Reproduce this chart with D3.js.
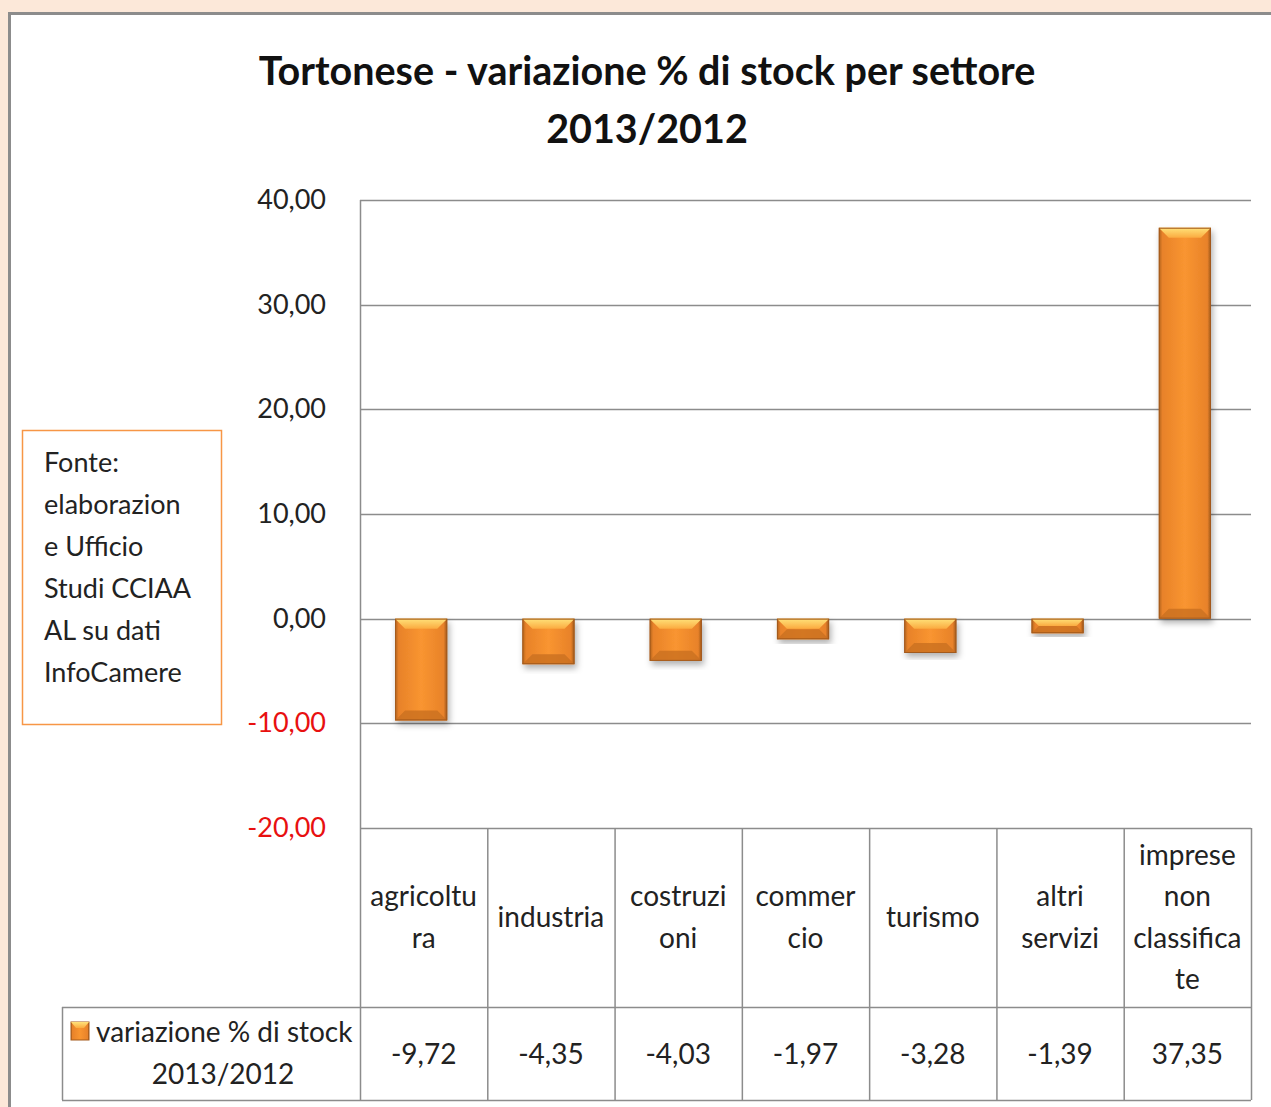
<!DOCTYPE html>
<html>
<head>
<meta charset="utf-8">
<script src="https://cdn.jsdelivr.net/npm/d3@7"></script>
<style>
    body { margin: 0; background: #fce8d9; }
    svg { display: block; }
    text { font-family: Lato, "Open Sans", sans-serif; fill: #222; }
</style>
</head>
<body>
<div id="chart"></div>
<script>
const categories = ["agricoltura", "industria", "costruzioni", "commercio", "turismo", "altri servizi", "imprese non classificate"];
const categoryLines = [["agricoltu", "ra"], ["industria"], ["costruzi", "oni"], ["commer", "cio"], ["turismo"], ["altri", "servizi"], ["imprese", "non", "classifica", "te"]];
const values = [-9.72, -4.35, -4.03, -1.97, -3.28, -1.39, 37.35];
const yTicks = [40, 30, 20, 10, 0, -10, -20];
const seriesName = ["variazione % di stock", "2013/2012"];
const sourceLines = ["Fonte:", "elaborazion", "e Ufficio", "Studi CCIAA", "AL su dati", "InfoCamere"];

const W = 1271, H = 1107;
// comma decimal, plain hyphen for negatives
const fmt = v => d3.format(".2f")(v).replace(".", ",").replace("\u2212", "-");

const svg = d3.select("#chart").append("svg")
    .attr("width", W)
    .attr("height", H);

const defs = svg.append("defs");

// horizontal shading of bar body
const gBody = defs.append("linearGradient").attr("id", "barBody");
gBody.append("stop").attr("offset", "0%").attr("stop-color", "#b0621c");
gBody.append("stop").attr("offset", "7%").attr("stop-color", "#e8822a");
gBody.append("stop").attr("offset", "50%").attr("stop-color", "#f99530");
gBody.append("stop").attr("offset", "93%").attr("stop-color", "#e8822a");
gBody.append("stop").attr("offset", "100%").attr("stop-color", "#9c561a");

const gTop = defs.append("linearGradient").attr("id", "barTop")
    .attr("x1", 0).attr("y1", 0).attr("x2", 0).attr("y2", 1);
gTop.append("stop").attr("offset", "0%").attr("stop-color", "#ffe27a");
gTop.append("stop").attr("offset", "100%").attr("stop-color", "#fbab40");

const shadow = defs.append("filter").attr("id", "shadow")
    .attr("x", "-20%").attr("y", "-10%").attr("width", "140%").attr("height", "130%");
shadow.append("feDropShadow").attr("dx", 2).attr("dy", 4).attr("stdDeviation", 3)
    .attr("flood-color", "#000").attr("flood-opacity", 0.3);

// chart area (white panel)
svg.append("rect")
    .attr("x", 9.5).attr("y", 13.5)
    .attr("width", W + 20).attr("height", H + 20)
    .attr("fill", "#fff")
    .attr("stroke", "#8c8c8c")
    .attr("stroke-width", 3);

// title
svg.append("text")
    .attr("x", 647).attr("y", 85)
    .attr("text-anchor", "middle")
    .style("font-size", "39.5px").style("font-weight", "bold").style("fill", "#111")
    .text("Tortonese - variazione % di stock per settore");
svg.append("text")
    .attr("x", 647).attr("y", 143)
    .attr("text-anchor", "middle")
    .style("font-size", "39.5px").style("font-weight", "bold").style("fill", "#111")
    .text("2013/2012");

const margin = { left: 360, right: 1251, top: 200, bottom: 828 };

const x = d3.scaleBand()
    .domain(categories)
    .range([margin.left, margin.right])
    .paddingInner(0.59)
    .paddingOuter(0.295)
    .align(0.467);

const xTable = d3.scaleBand()
    .domain(categories)
    .range([margin.left, margin.right]);

const y = d3.scaleLinear()
    .domain([-20, 40])
    .range([margin.bottom, margin.top]);

// grid lines
svg.append("g")
    .selectAll("line")
    .data(yTicks)
    .join("line")
    .attr("x1", margin.left).attr("x2", margin.right)
    .attr("y1", d => Math.round(y(d)) + 0.5).attr("y2", d => Math.round(y(d)) + 0.5)
    .attr("stroke", "#8c8c8c")
    .attr("stroke-width", 1.5);

// y axis labels
const yAxis = d3.axisLeft(y).tickValues(yTicks).tickSize(0).tickPadding(34).tickFormat(fmt);
const yAxisG = svg.append("g")
    .attr("transform", `translate(${margin.left},0)`)
    .call(yAxis);
yAxisG.select(".domain").remove();
yAxisG.selectAll("text")
    .style("font-family", "Lato, 'Open Sans', sans-serif")
    .style("font-size", "27px")
    .style("fill", d => d < 0 ? "#e81010" : "#222");

// vertical axis line
svg.append("line")
    .attr("x1", margin.left + 0.5).attr("x2", margin.left + 0.5)
    .attr("y1", margin.top).attr("y2", 1100)
    .attr("stroke", "#8c8c8c").attr("stroke-width", 1.5);

// bars
const bars = svg.append("g")
    .selectAll("g")
    .data(values.map((v, i) => ({ cat: categories[i], v })))
    .join("g")
    .attr("filter", "url(#shadow)");

bars.append("rect")
    .attr("x", d => x(d.cat))
    .attr("y", d => y(Math.max(0, d.v)))
    .attr("width", x.bandwidth())
    .attr("height", d => Math.abs(y(d.v) - y(0)))
    .attr("fill", "url(#barBody)");

// top bevel
bars.append("path")
    .attr("d", d => {
        const x0 = x(d.cat), x1 = x0 + x.bandwidth();
        const top = y(Math.max(0, d.v));
        const h = Math.abs(y(d.v) - y(0));
        const b = Math.min(10, h / 2);
        return `M${x0},${top}L${x1},${top}L${x1 - b},${top + b}L${x0 + b},${top + b}Z`;
    })
    .attr("fill", "url(#barTop)");

// bottom bevel
bars.append("path")
    .attr("d", d => {
        const x0 = x(d.cat), x1 = x0 + x.bandwidth();
        const bot = y(Math.min(0, d.v));
        const h = Math.abs(y(d.v) - y(0));
        const b = Math.min(10, h / 2);
        return `M${x0},${bot}L${x1},${bot}L${x1 - b},${bot - b}L${x0 + b},${bot - b}Z`;
    })
    .attr("fill", "#c96f22")
    .attr("opacity", 0.8);

bars.append("rect")
    .attr("x", d => x(d.cat) + 0.5)
    .attr("y", d => y(Math.max(0, d.v)) + 0.5)
    .attr("width", x.bandwidth() - 1)
    .attr("height", d => Math.abs(y(d.v) - y(0)) - 1)
    .attr("fill", "none")
    .attr("stroke", "#a35a1c")
    .attr("stroke-width", 1);

// data table
const tableTop = 828, rowSplit = 1007, tableBottom = 1100;
const table = svg.append("g");

table.selectAll(".vline")
    .data(categories)
    .join("line")
    .attr("class", "vline")
    .attr("x1", d => xTable(d) + xTable.bandwidth() + 0.5)
    .attr("x2", d => xTable(d) + xTable.bandwidth() + 0.5)
    .attr("y1", tableTop).attr("y2", tableBottom)
    .attr("stroke", "#8c8c8c").attr("stroke-width", 1.5);

table.append("line")
    .attr("x1", 62).attr("x2", margin.right)
    .attr("y1", rowSplit + 0.5).attr("y2", rowSplit + 0.5)
    .attr("stroke", "#8c8c8c").attr("stroke-width", 1.5);
table.append("line")
    .attr("x1", 62).attr("x2", margin.right)
    .attr("y1", tableBottom + 0.5).attr("y2", tableBottom + 0.5)
    .attr("stroke", "#8c8c8c").attr("stroke-width", 1.5);
table.append("line")
    .attr("x1", 62.5).attr("x2", 62.5)
    .attr("y1", rowSplit).attr("y2", tableBottom)
    .attr("stroke", "#8c8c8c").attr("stroke-width", 1.5);

// category labels
const lineH = 41.5;
table.selectAll(".cat")
    .data(categories)
    .join("text")
    .attr("class", "cat")
    .attr("text-anchor", "middle")
    .style("font-size", "28px")
    .each(function(d, i) {
        const lines = categoryLines[i];
        const cx = xTable(d) + xTable.bandwidth() / 2;
        const startY = 927 - (lines.length - 1) * lineH / 2;
        d3.select(this).selectAll("tspan")
            .data(lines)
            .join("tspan")
            .attr("x", cx)
            .attr("y", (l, j) => startY + j * lineH)
            .text(l => l);
    });

// values row
table.selectAll(".val")
    .data(values)
    .join("text")
    .attr("class", "val")
    .attr("x", (d, i) => xTable(categories[i]) + xTable.bandwidth() / 2)
    .attr("y", 1064)
    .attr("text-anchor", "middle")
    .style("font-size", "28px")
    .text(d => fmt(d));

// legend cell
table.append("rect")
    .attr("x", 71).attr("y", 1022)
    .attr("width", 18).attr("height", 18)
    .attr("fill", "url(#barBody)")
    .attr("stroke", "#a35a1c");
table.append("path")
    .attr("d", "M71,1022L89,1022L84,1028L76,1028Z")
    .attr("fill", "url(#barTop)");
table.append("text")
    .attr("x", 96).attr("y", 1042)
    .style("font-size", "28px")
    .text(seriesName[0]);
table.append("text")
    .attr("x", 223).attr("y", 1084)
    .attr("text-anchor", "middle")
    .style("font-size", "28px")
    .text(seriesName[1]);

// source box
svg.append("rect")
    .attr("x", 22.5).attr("y", 430.5)
    .attr("width", 199).attr("height", 294)
    .attr("fill", "#fff")
    .attr("stroke", "#f79646")
    .attr("stroke-width", 1.5);
svg.append("g")
    .selectAll("text")
    .data(sourceLines)
    .join("text")
    .attr("x", 44)
    .attr("y", (d, i) => 472 + i * 42)
    .style("font-size", "27px")
    .text(d => d);
</script>
</body>
</html>
